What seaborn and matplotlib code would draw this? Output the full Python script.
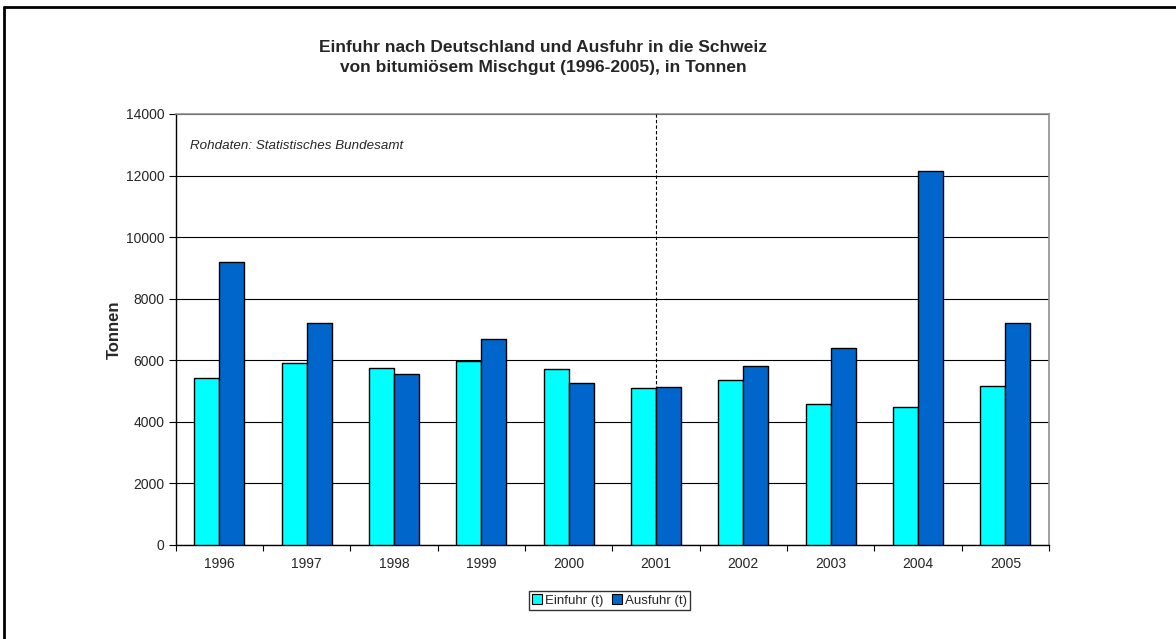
import pandas as pd
import seaborn as sns
import matplotlib.pyplot as plt
from matplotlib.lines import Line2D

# --- Daten ---
years = ['1996', '1997', '1998', '1999', '2000', '2001', '2002', '2003', '2004', '2005']
einfuhr = [5410, 5920, 5740, 5990, 5730, 5100, 5370, 4580, 4480, 5170]
ausfuhr = [9180, 7220, 5570, 6680, 5260, 5130, 5830, 6390, 12140, 7220]
series_names = ['Einfuhr (t)', 'Ausfuhr (t)']
colors = ['#00FFFF', '#0066CC']


def main():
    df = pd.DataFrame({
        'Jahr': years * 2,
        'Tonnen': einfuhr + ausfuhr,
        'Serie': [series_names[0]] * len(years) + [series_names[1]] * len(years),
    })

    sns.set_style('white')
    plt.rcParams['font.family'] = ['Liberation Sans', 'DejaVu Sans']

    fig = plt.figure(figsize=(11.76, 6.39), dpi=100)
    ax = fig.add_axes([175.7 / 1176, 1 - 545 / 639, 873.3 / 1176, 431 / 639])

    sns.barplot(data=df, x='Jahr', y='Tonnen', hue='Serie', palette=colors,
                width=0.573, gap=0, edgecolor='black', linewidth=1,
                saturation=1, legend=False, ax=ax, zorder=3)

    # Achsen
    ax.set_xlim(-0.5, len(years) - 0.5)
    ax.set_ylim(0, 14000)
    ax.set_yticks(range(0, 14001, 2000))
    ax.yaxis.grid(True, color='black', linewidth=0.8, zorder=0)
    ax.set_axisbelow(True)
    ax.tick_params(axis='y', which='major', direction='out', length=5, width=0.8,
                   color='black', labelsize=10, pad=3, left=True)
    ax.tick_params(axis='x', which='major', length=0, labelsize=10, pad=9)
    ax.set_xticks([i - 0.5 for i in range(len(years) + 1)], minor=True)
    ax.tick_params(axis='x', which='minor', direction='out', length=4, width=0.8,
                   color='black', bottom=True)
    ax.set_xlabel('')
    ax.set_ylabel('Tonnen', fontsize=12, fontweight='bold', labelpad=3)

    for side in ['left', 'bottom']:
        ax.spines[side].set_color('black')
        ax.spines[side].set_linewidth(1)
    for side in ['top', 'right']:
        ax.spines[side].set_color('#909090')
        ax.spines[side].set_linewidth(1.2)

    # Trennlinie 2001
    ax.axvline(years.index('2001'), color='black', linestyle=(0, (3, 2)),
               linewidth=0.8, zorder=4)

    ax.text(0.016, 0.926, 'Rohdaten: Statistisches Bundesamt', transform=ax.transAxes,
            fontsize=9.6, fontstyle='italic', va='center', ha='left')

    fig.text(543 / 1176, 1 - 57.5 / 639,
             'Einfuhr nach Deutschland und Ausfuhr in die Schweiz\n'
             'von bitumiösem Mischgut (1996-2005), in Tonnen',
             ha='center', va='center', fontsize=12.5, fontweight='bold',
             linespacing=1.38)

    # Legende
    handles = [Line2D([], [], marker='s', linestyle='', markersize=7.5,
                      markerfacecolor=c, markeredgecolor='black', markeredgewidth=0.8)
               for c in colors]
    fig.legend(handles, series_names, loc='center',
               bbox_to_anchor=(609.5 / 1176, 1 - 600.5 / 639), ncol=2,
               frameon=True, fancybox=False, edgecolor='black', fontsize=9.5,
               handlelength=0.8, handletextpad=0.2, columnspacing=0.6,
               borderpad=0.25, borderaxespad=0)

    # Rahmen links/oben
    fig.add_artist(Line2D([3.5 / 1176, 3.5 / 1176], [0, 1 - 7 / 639],
                          color='black', linewidth=2, transform=fig.transFigure))
    fig.add_artist(Line2D([3.5 / 1176, 1], [1 - 7 / 639, 1 - 7 / 639],
                          color='black', linewidth=2, transform=fig.transFigure))

    fig.savefig('out.png', dpi=100)


if __name__ == '__main__':
    main()
